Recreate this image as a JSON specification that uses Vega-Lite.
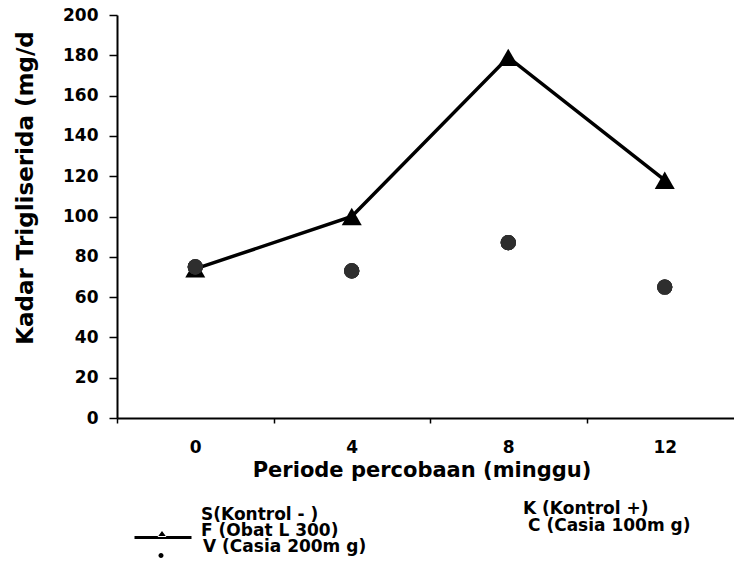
{
  "$schema": "https://vega.github.io/schema/vega-lite/v6.json",
  "autosize": "none",
  "padding": {"left": 117, "top": 15, "right": 0, "bottom": 147},
  "width": 617,
  "height": 403,
  "background": "white",
  "config": {
    "view": {"stroke": null},
    "font": "DejaVu Sans",
    "axis": {"labelFont": "DejaVu Sans", "titleFont": "DejaVu Sans", "labelFontWeight": "bold", "titleFontWeight": "bold", "labelColor": "black", "titleColor": "black", "domainColor": "black", "tickColor": "black", "grid": false},
    "legend": {"title": null, "padding": 0, "symbolSize": 100, "symbolOpacity": 1, "symbolFillColor": "black", "symbolStrokeWidth": 0, "labelFont": "DejaVu Sans", "labelFontSize": 17, "labelFontWeight": "bold", "labelColor": "black", "labelOffset": 4, "labelLimit": 400}
  },
  "data": {
    "values": [
      {"series": "S(Kontrol - )", "week": 0, "value": 75},
      {"series": "S(Kontrol - )", "week": 4, "value": 73},
      {"series": "S(Kontrol - )", "week": 8, "value": 87},
      {"series": "S(Kontrol - )", "week": 12, "value": 65},
      {"series": "K (Kontrol +)", "week": 0, "value": 75},
      {"series": "K (Kontrol +)", "week": 4, "value": 73},
      {"series": "K (Kontrol +)", "week": 8, "value": 87},
      {"series": "K (Kontrol +)", "week": 12, "value": 65},
      {"series": "C (Casia 100m g)", "week": 0, "value": 75},
      {"series": "C (Casia 100m g)", "week": 4, "value": 73},
      {"series": "C (Casia 100m g)", "week": 8, "value": 87},
      {"series": "C (Casia 100m g)", "week": 12, "value": 65},
      {"series": "V (Casia 200m g)", "week": 0, "value": 75},
      {"series": "V (Casia 200m g)", "week": 4, "value": 73},
      {"series": "V (Casia 200m g)", "week": 8, "value": 87},
      {"series": "V (Casia 200m g)", "week": 12, "value": 65},
      {"series": "F (Obat L 300)", "week": 0, "value": 74},
      {"series": "F (Obat L 300)", "week": 4, "value": 100},
      {"series": "F (Obat L 300)", "week": 8, "value": 179},
      {"series": "F (Obat L 300)", "week": 12, "value": 118}
    ]
  },
  "encoding": {
    "x": {
      "field": "week", "type": "ordinal",
      "scale": {"type": "band", "domain": [0, 4, 8, 12], "range": [0, 626], "paddingInner": 0, "paddingOuter": 0},
      "axis": {
        "title": "Periode percobaan (minggu)", "labelAngle": 0, "tickBand": "extent",
        "labelFontSize": 17, "titleFontSize": 21, "tickSize": 5, "tickWidth": 1.5, "domainWidth": 2,
        "labelPadding": 16, "labelBaseline": "top",
        "titleX": 304.5, "titleY": 58, "titleBaseline": "alphabetic", "titleAlign": "center"
      }
    },
    "y": {
      "field": "value", "type": "quantitative",
      "scale": {"domain": [0, 200], "nice": false},
      "axis": {
        "title": "Kadar Trigliserida (mg/d", "values": [0, 20, 40, 60, 80, 100, 120, 140, 160, 180, 200],
        "labelFontSize": 17, "titleFontSize": 23, "tickSize": 8, "tickWidth": 1.5, "domainWidth": 2,
        "labelPadding": 11,
        "titleX": -85, "titleY": 172.5, "titleBaseline": "alphabetic", "titleAlign": "center", "titleAngle": 270
      }
    }
  },
  "layer": [
    {
      "transform": [{"filter": "datum.series === 'F (Obat L 300)'"}],
      "mark": {"type": "line", "color": "black", "strokeWidth": 3.5}
    },
    {
      "transform": [{"filter": "datum.series === 'F (Obat L 300)'"}],
      "mark": {"type": "point", "shape": "triangle-up", "filled": true, "size": 400, "color": "black", "opacity": 1}
    },
    {
      "transform": [{"filter": "datum.series !== 'F (Obat L 300)'"}],
      "mark": {"type": "circle", "size": 230, "color": "#2e2e2e", "opacity": 1}
    },
    {
      "transform": [{"filter": "datum.series === 'S(Kontrol - )'"}],
      "mark": {"type": "point", "filled": true, "opacity": 0, "color": "black"},
      "encoding": {
        "shape": {
          "field": "series", "type": "nominal",
          "scale": {"domain": ["S(Kontrol - )"], "range": ["M0,0L0,0Z"]},
          "legend": {"orient": "none", "legendX": 63, "legendY": 491}
        }
      }
    },
    {
      "transform": [{"filter": "datum.series === 'F (Obat L 300)'"}],
      "mark": {"type": "point", "filled": true, "opacity": 0, "color": "black"},
      "encoding": {
        "shape": {
          "field": "series", "type": "nominal",
          "scale": {"domain": ["F (Obat L 300)"], "range": ["M-10.8,1.1L0.6,1.1L0.6,1.7L-10.8,1.7Z M-6.2,1.3L-4.4,1.3L-5.3,0.1Z"]},
          "legend": {"orient": "none", "legendX": 63, "legendY": 507}
        }
      }
    },
    {
      "transform": [{"filter": "datum.series === 'V (Casia 200m g)'"}],
      "mark": {"type": "point", "filled": true, "opacity": 0, "color": "black"},
      "encoding": {
        "shape": {
          "field": "series", "type": "nominal",
          "scale": {"domain": ["V (Casia 200m g)"], "range": ["M-6.4,1.8A0.5,0.5 0 1,0 -5.4,1.8A0.5,0.5 0 1,0 -6.4,1.8Z"]},
          "legend": {"orient": "none", "legendX": 65, "legendY": 523}
        }
      }
    },
    {
      "transform": [{"filter": "datum.series === 'K (Kontrol +)'"}],
      "mark": {"type": "point", "filled": true, "opacity": 0, "color": "black"},
      "encoding": {
        "shape": {
          "field": "series", "type": "nominal",
          "scale": {"domain": ["K (Kontrol +)"], "range": ["M0,0L0,0Z"]},
          "legend": {"orient": "none", "legendX": 385, "legendY": 485}
        }
      }
    },
    {
      "transform": [{"filter": "datum.series === 'C (Casia 100m g)'"}],
      "mark": {"type": "point", "filled": true, "opacity": 0, "color": "black"},
      "encoding": {
        "shape": {
          "field": "series", "type": "nominal",
          "scale": {"domain": ["C (Casia 100m g)"], "range": ["M0,0L0,0Z"]},
          "legend": {"orient": "none", "legendX": 390, "legendY": 502}
        }
      }
    }
  ],
  "resolve": {"scale": {"shape": "independent"}, "legend": {"shape": "independent"}}
}
